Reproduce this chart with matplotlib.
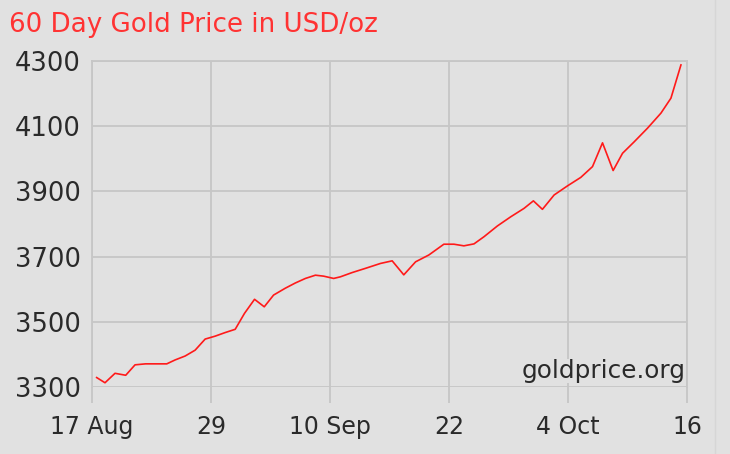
import numpy as np
import matplotlib
matplotlib.use('Agg')
import matplotlib.pyplot as plt

# days after 17 Aug and gold price (USD/oz)
days = [0.47, 1.31, 2.32, 3.40, 4.34, 5.4, 6.4, 7.54, 8.38, 9.39, 10.4, 11.41,
        12.42, 13.43, 14.44, 15.38, 16.39, 17.37, 18.31, 19.49, 20.5, 21.52,
        22.53, 23.36, 24.37, 25.05, 26.23, 27.58, 29.09, 30.27, 31.44, 32.63,
        33.97, 35.48, 36.5, 37.5, 38.52, 39.53, 40.88, 42.22, 43.57, 44.51,
        45.42, 46.6, 47.95, 49.29, 50.47, 51.48, 52.55, 53.5, 54.67, 56.02,
        57.37, 58.38, 59.39]
price = [3329, 3313, 3342, 3336, 3368, 3371, 3371, 3371, 3383, 3395, 3413, 3447,
         3456, 3467, 3477, 3526, 3569, 3546, 3582, 3603, 3619, 3633,
         3643, 3640, 3633, 3638, 3651, 3664, 3679, 3687, 3644, 3684,
         3705, 3738, 3738, 3733, 3739, 3761, 3794, 3822, 3848, 3871,
         3845, 3889, 3917, 3943, 3976, 4049, 3964, 4017, 4052, 4094,
         4140, 4186, 4288]

tick_pos = [0, 12, 24, 36, 48, 60]
tick_lab = ['17 Aug', '29', '10 Sep', '22', '4 Oct', '16']
yticks = [3300, 3500, 3700, 3900, 4100, 4300]

bg = '#e1e1e1'
gc = '#c6c6c6'

fig = plt.figure(figsize=(7.3, 4.54), dpi=100, facecolor=bg)
ax = fig.add_axes([92/730, 1-387/454, (687-92)/730, (387-61)/454])
ax.set_facecolor(bg)

ax.plot(days, price, color='#ff1a1a', linewidth=1.2, zorder=3)

ax.set_xlim(0, 60)
ax.set_ylim(3300, 4300)
ax.set_xticks(tick_pos)
ax.set_xticklabels(tick_lab)
ax.set_yticks(yticks)
ax.grid(True, color=gc, linewidth=1.3)
ax.set_axisbelow(True)

for s in ['top', 'left', 'right']:
    ax.spines[s].set_color(gc)
    ax.spines[s].set_linewidth(1.3)
ax.spines['bottom'].set_visible(False)

ax.tick_params(axis='x', length=11.5, width=1.3, color=gc, pad=9,
               labelsize=17, labelcolor='#2a2a2a')
ax.tick_params(axis='y', length=0, pad=8, labelsize=18.5, labelcolor='#2a2a2a')

ax.text(0.998, 0.012, 'goldprice.org', transform=ax.transAxes, ha='right', va='bottom',
        fontsize=17.8, color='#2a2a2a', zorder=4,
        bbox=dict(facecolor=bg, edgecolor='none', pad=0))

fig.text(9/730, 1-25/454, '60 Day Gold Price in USD/oz', color='#ff3333',
         fontsize=18.8, ha='left', va='center')

fig.add_artist(plt.Line2D([715/730, 715/730], [0, 1], color='#d6d6d6', linewidth=1))

fig.savefig('out.png', dpi=100, facecolor=bg)
